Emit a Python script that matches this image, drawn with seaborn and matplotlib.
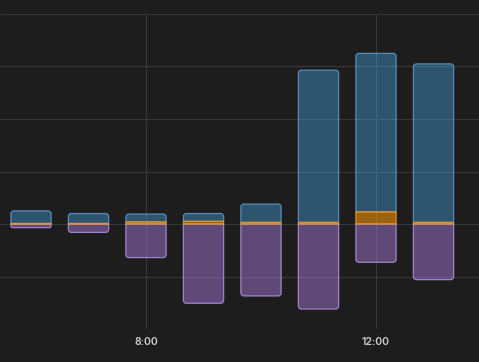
import numpy as np
import pandas as pd
import seaborn as sns
import matplotlib
matplotlib.use("Agg")
import matplotlib.pyplot as plt
from matplotlib.path import Path
from matplotlib.patches import PathPatch, Rectangle
from matplotlib.transforms import IdentityTransform
from matplotlib.colors import to_rgba

# ---- data ----
hours = [6, 7, 8, 9, 10, 11, 12, 13]
orange_vals = [0.1, 0.1, 0.4, 0.5, 0.3, 0.3, 2.3, 0.3]
blue_vals = [2.4, 1.9, 1.5, 1.5, 3.5, 29.0, 30.2, 30.2]
purple_vals = [-0.7, -1.6, -6.4, -15.1, -13.7, -16.2, -7.3, -10.6]
tick_hours = [8, 12]
tick_labels = ["8:00", "12:00"]

BG = "#1d1d1d"
GRID = "#383838"
STYLES = [
    (to_rgba("#4cabea", 0.4), to_rgba("#5a9ad0", 0.85)),   # blue
    (to_rgba("#f19307", 0.6), to_rgba("#f0961c", 0.9)),    # orange
    (to_rgba("#c28dff", 0.4), to_rgba("#b190e0", 0.85)),   # purple
]

sns.set_style("dark")
plt.rcParams["font.family"] = ["Inter", "DejaVu Sans"]

fig = plt.figure(figsize=(4.79, 3.62), dpi=100, facecolor=BG)
ax = fig.add_axes([0, (362 - 329) / 362, 1, (329 - 14) / 362])
ax.set_facecolor(BG)

stack_top = np.array(orange_vals) + np.array(blue_vals)
common = dict(native_scale=True, width=0.7, saturation=1, linewidth=0.9, ax=ax)
sns.barplot(x=hours, y=stack_top, color="#4cabea", **common)
sns.barplot(x=hours, y=orange_vals, color="#f19307", **common)
sns.barplot(x=hours, y=purple_vals, color="#c28dff", **common)

ax.set_xlim(8 - 146 / 57.5, 8 + (479 - 146) / 57.5)
ax.set_ylim(-20, 40)
ax.set_yticks(np.arange(-20, 41, 10))
ax.set_yticklabels([])
ax.set_xticks(tick_hours)
ax.set_xticklabels(tick_labels, color="#cccccc", fontsize=7.6, fontweight="semibold")
ax.tick_params(axis="both", length=0)
ax.tick_params(axis="x", pad=6)
ax.grid(True, color=GRID, linewidth=0.8)
ax.set_axisbelow(True)
for s in ax.spines.values():
    s.set_visible(False)
ax.set_xlabel("")
ax.set_ylabel("")

# ---- restyle bars: stack blue above orange, round outer ends ----
rects = [p for p in ax.patches if isinstance(p, Rectangle)]
n = len(hours)
r = 3.0
for i, p in enumerate(rects):
    group, k = divmod(i, n)
    x0, y0 = p.get_x(), p.get_y()
    w, h = p.get_width(), p.get_height()
    (dx0, dy0), (dx1, dy1) = ax.transData.transform([(x0, min(y0, y0 + h)), (x0 + w, max(y0, y0 + h))])
    if group == 0:
        op = rects[n + k]
        dy0 = ax.transData.transform((0, op.get_y() + op.get_height()))[1]
    rr = min(r, (dy1 - dy0) / 2, (dx1 - dx0) / 2)
    if group == 1:
        rr = 0.0
    if group in (0, 1):  # round top
        verts = [(dx0, dy0), (dx1, dy0), (dx1, dy1 - rr), (dx1, dy1), (dx1 - rr, dy1),
                 (dx0 + rr, dy1), (dx0, dy1), (dx0, dy1 - rr), (dx0, dy0)]
    else:  # round bottom
        verts = [(dx0, dy1), (dx1, dy1), (dx1, dy0 + rr), (dx1, dy0), (dx1 - rr, dy0),
                 (dx0 + rr, dy0), (dx0, dy0), (dx0, dy0 + rr), (dx0, dy1)]
    codes = [Path.MOVETO, Path.LINETO, Path.LINETO, Path.CURVE3, Path.CURVE3,
             Path.LINETO, Path.CURVE3, Path.CURVE3, Path.CLOSEPOLY]
    fc, ec = STYLES[group]
    newp = PathPatch(Path(verts, codes), facecolor=fc, edgecolor=ec,
                     linewidth=0.9, transform=IdentityTransform(), zorder=2 + (group == 1))
    p.set_visible(False)
    ax.add_artist(newp)

fig.savefig("out.png", dpi=100, facecolor=BG)
